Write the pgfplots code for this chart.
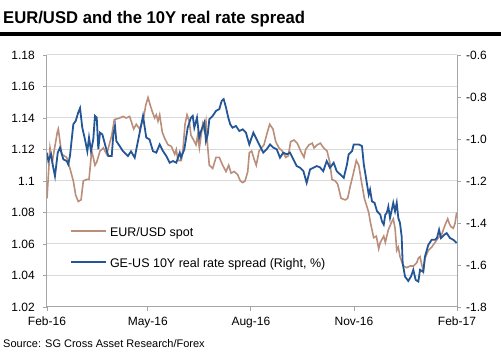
\documentclass[border=0pt]{standalone}
\usepackage{pgfplots}
\pgfplotsset{compat=1.18}
\usepackage{fontspec}
\setmainfont{Liberation Sans}
\definecolor{eurcol}{RGB}{186,142,122}
\definecolor{sprcol}{RGB}{36,86,150}
\definecolor{gridc}{RGB}{217,217,217}
\definecolor{axc}{RGB}{165,165,165}

\begin{document}
\begin{tikzpicture}
\path[use as bounding box] (0,0) rectangle (501bp,362bp);
\node[anchor=base west, inner sep=0pt] at (3bp,338bp) {\scalebox{0.98}[1]{\fontsize{17bp}{20bp}\selectfont\bfseries EUR/USD and the 10Y real rate spread}};
\fill[black] (0,326bp) rectangle (501bp,330bp);
\node[anchor=base west, inner sep=0pt] at (3bp,15bp) {\fontsize{11bp}{13bp}\selectfont Source: SG Cross Asset Research/Forex};

\begin{axis}[
  at={(47bp,55bp)}, anchor=south west, scale only axis,
  width=410bp, height=252bp,
  xmin=0, xmax=366, ymin=1.02, ymax=1.18,
  axis x line*=bottom, axis y line*=left,
  axis line style={draw=axc, line width=1bp},
  tick align=outside, major tick length=4bp,
  tick style={draw=axc, line width=0.8bp},
  xtick={0,90,182,274,366},
  xticklabels={Feb-16,May-16,Aug-16,Nov-16,Feb-17},
  ytick={1.02,1.04,1.06,1.08,1.1,1.12,1.14,1.16,1.18},
  yticklabels={1.02,1.04,1.06,1.08,1.1,1.12,1.14,1.16,1.18},
  ymajorgrids, grid style={draw=gridc, line width=1bp},
  ticklabel style={font=\fontsize{12bp}{14bp}\selectfont},
  yticklabel style={anchor=east, inner sep=0pt, xshift=-8bp},
  xticklabel style={anchor=north, inner sep=0pt, yshift=-6bp},
  legend style={at={(0.0561,0.329)}, anchor=north west, draw=none, fill=none,
    inner sep=0pt, row sep=17.6bp, column sep=3bp,
    nodes={inner sep=0pt, text height=12bp, text depth=1.4bp,
      font=\fontsize{12.5bp}{14bp}\selectfont}},
  legend cell align=left,
  legend image code/.code={\draw[#1] (0bp,0bp) -- (35bp,0bp);},
]
\addplot[eurcol, line width=1.6bp] coordinates {
(0,1.089) (2.7,1.121) (4.7,1.112) (9.2,1.131) (10.1,1.133) (13.1,1.117)
(17.6,1.115) (20.5,1.108) (23.5,1.100) (25.6,1.091) (27.9,1.087) (30.4,1.088)
(32.4,1.100) (35.4,1.101) (37.5,1.101) (39.9,1.119) (41.3,1.115) (42.8,1.110)
(44.4,1.112) (47.3,1.119) (50.3,1.121) (53.3,1.117) (57.8,1.129) (60.1,1.139)
(64.9,1.140) (67.8,1.141) (70.8,1.140) (73.8,1.141) (77.4,1.133) (79.7,1.136)
(82.8,1.133) (86.3,1.140) (88.1,1.148) (90.2,1.153) (92.2,1.148) (94.0,1.144)
(96.1,1.140) (97.6,1.142) (99.1,1.138) (100.6,1.142) (102.9,1.131) (105.1,1.127)
(108.0,1.123) (111.0,1.122) (114.0,1.117) (115.4,1.120) (116.9,1.113) (119.9,1.113)
(121.4,1.120) (123.2,1.136) (125.0,1.142) (127.0,1.138) (128.5,1.129) (130.1,1.127)
(133.0,1.123) (134.5,1.129) (136.0,1.121) (139.0,1.136) (140.4,1.132) (141.9,1.138)
(143.5,1.121) (144.9,1.110) (147.9,1.108) (150.9,1.115) (153.8,1.115) (156.8,1.110)
(159.8,1.106) (162.2,1.110) (164.3,1.105) (167.2,1.106) (170.2,1.104) (172.6,1.100)
(174.7,1.099) (176.8,1.100) (179.2,1.106) (180.6,1.118) (182.7,1.119) (184.8,1.114)
(186.8,1.110) (189.3,1.119) (193.7,1.123) (196.7,1.131) (198.8,1.136) (201.7,1.133)
(204.2,1.125) (207.1,1.121) (210.0,1.119) (213.1,1.115) (215.4,1.116) (217.5,1.125)
(220.5,1.126) (223.4,1.124) (226.5,1.119) (229.4,1.115) (230.9,1.120) (233.9,1.123)
(236.8,1.124) (238.4,1.121) (241.3,1.123) (244.0,1.124) (247.0,1.121) (250.0,1.119)
(252.4,1.112) (254.4,1.101) (257.4,1.100) (259.5,1.098) (262.5,1.089) (266.3,1.088)
(268.4,1.089) (270.8,1.097) (273.2,1.104) (276.1,1.113) (278.3,1.110) (280.6,1.100)
(283.3,1.089) (287.2,1.080) (288.6,1.074) (291.6,1.064) (294.0,1.065) (296.1,1.057)
(297.5,1.061) (300.6,1.065) (302.0,1.061) (304.7,1.069) (307.7,1.074) (309.1,1.076)
(310.7,1.070) (312.2,1.056) (313.6,1.058) (315.1,1.052) (318.1,1.046) (321.1,1.045)
(324.0,1.046) (327.0,1.046) (330.0,1.048) (331.5,1.051) (333.0,1.052) (334.5,1.047)
(335.9,1.043) (337.4,1.051) (340.4,1.056) (343.4,1.058) (346.4,1.061) (349.3,1.064)
(352.3,1.066) (355.3,1.072) (357.7,1.076) (359.1,1.073) (360.6,1.071) (362.7,1.070)
(364.2,1.073) (365.7,1.080)
};
\addlegendentry{EUR/USD spot}
\addlegendimage{sprcol, line width=1.8bp}
\addlegendentry{GE-US 10Y real rate spread (Right, \%)}
\end{axis}

\begin{axis}[
  at={(47bp,55bp)}, anchor=south west, scale only axis,
  width=410bp, height=252bp,
  xmin=0, xmax=366, ymin=-1.8, ymax=-0.6,
  axis x line=none, axis y line*=right,
  axis line style={draw=axc, line width=1bp},
  tick align=outside, major tick length=4bp,
  tick style={draw=axc, line width=0.8bp},
  ytick={-1.8,-1.6,-1.4,-1.2,-1.0,-0.8,-0.6},
  yticklabels={-1.8,-1.6,-1.4,-1.2,-1.0,-0.8,-0.6},
  ticklabel style={font=\fontsize{12bp}{14bp}\selectfont},
  yticklabel style={anchor=west, inner sep=0pt, xshift=5bp},
]
\addplot[sprcol, line width=1.8bp] coordinates {
(0,-1.065) (1.2,-1.105) (3.6,-1.073) (5.6,-1.137) (7.1,-1.177) (9.6,-1.065)
(11.6,-1.041) (14.6,-1.097) (17.6,-1.105) (19.0,-1.121) (20.5,-1.081) (23.5,-0.930)
(25.6,-0.914) (27.9,-0.874) (29.5,-0.853) (31.5,-0.946) (33.9,-1.002) (36.0,-1.058)
(37.5,-0.993) (39.3,-1.058) (41.3,-1.002) (42.8,-0.890) (44.4,-0.898) (45.8,-1.049)
(47.3,-0.970) (49.4,-0.978) (51.8,-1.026) (54.7,-1.081) (57.8,-1.081) (59.2,-0.978)
(60.7,-0.938) (61.9,-1.010) (64.9,-1.034) (67.8,-1.058) (72.3,-1.081) (75.0,-1.059)
(78.3,-1.089) (81.2,-1.010) (85.7,-0.890) (88.6,-0.993) (91.5,-1.002) (94.6,-1.058)
(97.6,-1.065) (100.6,-1.026) (103.6,-1.058) (106.5,-1.081) (109.5,-1.113) (112.5,-1.105)
(115.4,-1.113) (118.5,-1.065) (119.6,-1.089) (122.6,-1.049) (125.6,-0.946) (128.5,-0.898)
(130.1,-0.890) (131.5,-0.946) (133.9,-0.898) (135.9,-0.993) (137.5,-0.962) (140.4,-0.922)
(141.9,-1.010) (143.5,-0.978) (144.9,-0.906) (147.9,-0.890) (150.9,-0.866) (153.8,-0.858)
(156.0,-0.818) (157.7,-0.810) (159.8,-0.850) (161.8,-0.898) (163.6,-0.930) (165.6,-0.946)
(168.7,-0.938) (171.7,-0.962) (174.7,-0.954) (177.6,-0.970) (180.6,-1.026) (184.2,-0.970)
(187.2,-1.002) (190.1,-1.034) (193.1,-1.065) (196.1,-1.049) (199.1,-1.026) (202.0,-1.041)
(205.1,-1.049) (208.0,-1.089) (210.9,-1.065) (214.0,-1.073) (216.9,-1.065) (219.9,-1.097)
(222.9,-1.129) (225.9,-1.137) (228.9,-1.153) (231.8,-1.209) (234.8,-1.145) (237.7,-1.137)
(240.8,-1.129) (243.7,-1.135) (246.6,-1.153) (249.7,-1.105) (252.6,-1.137) (255.9,-1.113)
(258.6,-1.153) (261.8,-1.169) (264.9,-1.185) (267.8,-1.121) (269.3,-1.073) (272.3,-1.058)
(273.8,-1.026) (278.3,-1.026) (281.2,-1.034) (282.8,-1.121) (284.3,-1.169) (285.7,-1.217)
(287.2,-1.265) (288.4,-1.241) (290.1,-1.297) (292.4,-1.304) (294.6,-1.344) (297.5,-1.360)
(299.0,-1.392) (300.6,-1.408) (302.0,-1.360) (303.3,-1.352) (304.7,-1.322) (306.2,-1.376)
(309.1,-1.304) (310.7,-1.344) (312.2,-1.304) (313.6,-1.376) (315.1,-1.400) (316.6,-1.464)
(317.5,-1.591) (319.6,-1.655) (322.5,-1.676) (324.9,-1.655) (327.0,-1.623) (329.1,-1.671)
(331.5,-1.679) (333.0,-1.623) (335.9,-1.633) (337.4,-1.560) (340.4,-1.504) (343.4,-1.480)
(346.4,-1.480) (348.2,-1.470) (350.0,-1.432) (351.7,-1.472) (354.7,-1.456) (356.8,-1.448)
(359.8,-1.472) (362.7,-1.480) (365.7,-1.495)
};
\end{axis}
\end{tikzpicture}
\end{document}
